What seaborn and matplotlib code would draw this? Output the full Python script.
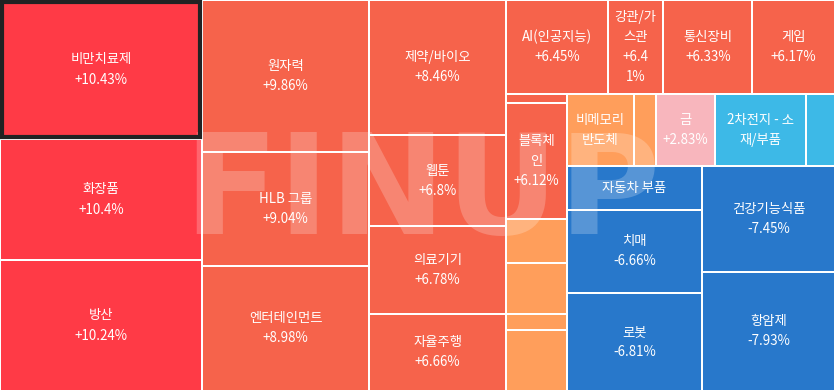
import matplotlib
matplotlib.use("Agg")
import matplotlib.pyplot as plt
from matplotlib.patches import Rectangle
import seaborn as sns

# 섹터 이름 (셀에 보이는 그대로, 줄바꿈 포함)
names = ["비만치료제", "화장품", "방산",
         "원자력", "HLB 그룹", "엔터테인먼트",
         "제약/바이오", "웹툰", "의료기기", "자율주행",
         "AI(인공지능)", "강관/가\n스관", "통신장비", "게임",
         "", "블록체\n인", "", "", "", "",
         "비메모리\n반도체", "", "금", "2차전지 - 소\n재/부품", "",
         "자동차 부품", "치매", "로봇",
         "건강기능식품", "항암제"]

# 등락률 (%)
changes = [10.43, 10.4, 10.24,
           9.86, 9.04, 8.98,
           8.46, 6.8, 6.78, 6.66,
           6.45, 6.41, 6.33, 6.17,
           6.05, 6.12, 5.6, 5.3, 4.9, 4.6,
           5.4, 5.8, 2.83, -3.6, -4.2,
           -6.2, -6.66, -6.81,
           -7.45, -7.93]

# 셀 크기 (면적 가중치)
sizes = [28078, 24442, 26462,
         25460, 19011, 21021,
         18428, 12490, 11944, 10511,
         9588, 5217, 8366, 7755,
         549, 7107, 2654, 3111, 1007, 3691,
         4824, 1584, 4248, 6552, 2088,
         5873, 11273, 13230,
         14098, 15827]

# 등락률 표시 여부
show_val = [True] * 14 + [False, True, False, False, False, False,
                          False, False, True, False, False,
                          False, True, True, True, True]

# 트리맵 구조 (잎 = 인덱스)
tree = [[0, 1, 2], [3, 4, 5], [6, 7, 8, 9],
        [[10, 11, 12, 13],
         [[14, 15, 16, 17, 18, 19],
          [[20, 21, 22, 23, 24],
           [[25, 26, 27], [28, 29]]]]]]

W, H = 835, 391


def weight(node):
    if isinstance(node, int):
        return sizes[node]
    return sum(weight(c) for c in node)


rects = {}


def layout(node, x, y, w, h, depth):
    if isinstance(node, int):
        rects[node] = (x, y, w, h)
        return
    total = weight(node)
    pos = 0.0
    for c in node:
        f = weight(c) / total
        if depth % 2 == 0:
            layout(c, x + pos * w, y, f * w, h, depth + 1)
        else:
            layout(c, x, y + pos * h, w, f * h, depth + 1)
        pos += f


def color_for(v):
    if v >= 10:
        return "#FF3A46"
    if v >= 6:
        return "#F6634B"
    if v >= 3:
        return "#FF9E5B"
    if v >= 0:
        return "#F8B6BD"
    if v > -6:
        return "#3DB9E7"
    return "#2878CB"


layout(tree, 0, 0, W, H, 0)

sns.set_theme(style="white")
plt.rcParams['font.family'] = ['Noto Sans CJK KR', 'DejaVu Sans']

fig = plt.figure(figsize=(8.35, 3.91), dpi=100)
ax = fig.add_axes([0, 0, 1, 1])
ax.set_xlim(0, W)
ax.set_ylim(H, 0)
ax.axis("off")

for i in range(len(names)):
    x, y, w, h = rects[i]
    ax.add_patch(Rectangle((x + 1, y + 1), w - 2, h - 2,
                           facecolor=color_for(changes[i]), edgecolor="none", zorder=1))

# 워터마크
ax.text(422, 196, "FINUP", color="white", alpha=0.22, fontsize=100,
        fontweight="bold", family="DejaVu Sans", ha="center", va="center", zorder=2)

for i in range(len(names)):
    x, y, w, h = rects[i]
    lines = names[i].split("\n") if names[i] else []
    if show_val[i]:
        val = f"{changes[i]:+g}%"
        if w < 57:
            lines += [val[:4], val[4:]]
        else:
            lines.append(val)
    n = len(lines)
    cx, cy = x + w / 2, y + h / 2
    for k, line in enumerate(lines):
        ax.text(cx, cy + (k - (n - 1) / 2) * 20, line, color="white",
                fontsize=9.6, fontweight="medium", ha="center", va="center", zorder=3)

# 선택된 셀 테두리
x, y, w, h = rects[0]
ax.add_patch(Rectangle((x + 2, y + 2), w - 4, h - 4, facecolor="none",
                       edgecolor="#222222", linewidth=3, zorder=4))

plt.savefig("out.png", dpi=100)
